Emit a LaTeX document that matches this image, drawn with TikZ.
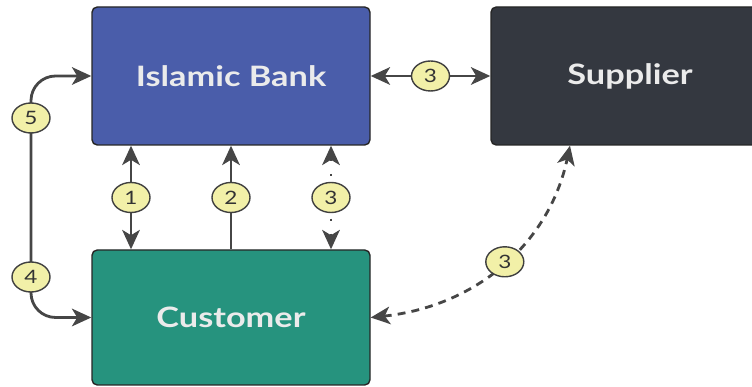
\documentclass[tikz,border=0pt]{standalone}
\usepackage{fontspec}
\setmainfont{Lato}
\newfontfamily\boxfont[FakeStretch=1.22]{Lato}
\usetikzlibrary{arrows.meta,shapes.geometric}
\definecolor{bankblue}{HTML}{4A5DAA}
\definecolor{supgray}{HTML}{343840}
\definecolor{custgreen}{HTML}{26937E}
\definecolor{badgeyellow}{HTML}{F2F0A8}
\definecolor{linegray}{HTML}{464646}
\tikzset{
  every picture/.style={line join=round, >={Stealth[length=11pt,width=10pt,inset=3pt]}},
  party/.style={draw=black!85, line width=0.8pt, rounded corners=3pt, minimum width=5.56cm, minimum height=2.76cm, text=white!92!black, font=\boxfont\bfseries\fontsize{16}{18}\selectfont},
  flow/.style={draw=linegray, line width=1.6pt},
  badge/.style={ellipse, solid, draw=black!75, line width=0.8pt, fill=badgeyellow, minimum width=0.76cm, minimum height=0.6cm, inner sep=0pt, font=\boxfont\fontsize{10.5}{12}\selectfont, text=black!80},
}

\begin{document}
\begin{tikzpicture}
\useasboundingbox (0,0) rectangle (15.04,7.74);
\node[party,fill=bankblue] (bank) at (4.62,6.22) {Islamic Bank};
\node[party,fill=supgray] (supplier) at (12.6,6.22) {Supplier};
\node[party,fill=custgreen,minimum height=2.7cm] (customer) at (4.62,1.39) {Customer};
\draw[flow,<->] (bank.east) -- (supplier.west) node[badge,midway]{3};
\draw[flow,<->] ([xshift=-2cm]bank.south) -- ([xshift=-2cm]customer.north) node[badge,midway]{1};
\draw[flow,->] (customer.north) -- (bank.south) node[badge,midway]{2};
\draw[flow,<->,dash pattern=on 1.5pt off 7pt] ([xshift=2cm]bank.south) -- ([xshift=2cm]customer.north) node[badge,midway]{3};
\draw[flow,<->,rounded corners=14pt] (bank.west) -| (0.62,3.8) |- (customer.west);
\node[badge] (b5) at (0.62,5.38) {5};
\node[badge] (b4) at (0.62,2.2) {4};
\draw[flow,<->,dash pattern=on 4.5pt off 3.5pt] (customer.east) to[out=6,in=-102] node[badge,pos=0.52]{3} ([xshift=-1.2cm]supplier.south);
\end{tikzpicture}
\end{document}
